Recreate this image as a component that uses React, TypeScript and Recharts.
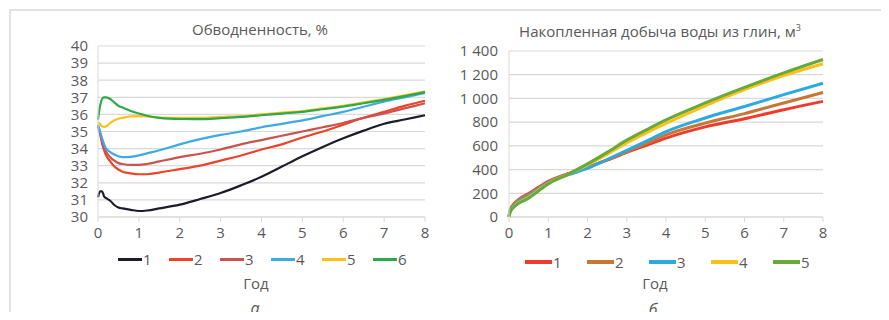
import React from "react";
import { LineChart, Line, XAxis, YAxis, CartesianGrid } from "recharts";

// ---- Chart a: Обводненность, % ----
const yearsA = [0, 0.05, 0.1, 0.15, 0.2, 0.3, 0.4, 0.5, 0.6, 0.8, 1, 1.2, 1.5, 2, 2.5, 3, 3.5, 4, 4.5, 5, 5.5, 6, 6.5, 7, 7.5, 8];
const wc1 = [31.15, 31.5, 31.5, 31.2, 31.1, 30.95, 30.7, 30.55, 30.5, 30.42, 30.35, 30.38, 30.5, 30.72, 31.05, 31.4, 31.85, 32.35, 32.95, 33.55, 34.1, 34.6, 35.05, 35.45, 35.7, 35.95];
const wc2 = [35.3, 34.9, 34.3, 33.9, 33.6, 33.25, 32.95, 32.78, 32.65, 32.55, 32.5, 32.5, 32.6, 32.8, 33.0, 33.3, 33.6, 33.95, 34.25, 34.65, 35.0, 35.4, 35.8, 36.15, 36.5, 36.8];
const wc3 = [35.3, 34.9, 34.4, 34.0, 33.8, 33.5, 33.3, 33.15, 33.1, 33.05, 33.05, 33.1, 33.25, 33.5, 33.7, 33.95, 34.25, 34.5, 34.75, 35.0, 35.25, 35.5, 35.8, 36.05, 36.35, 36.65];
const wc4 = [35.4, 35.0, 34.6, 34.25, 34.0, 33.8, 33.65, 33.55, 33.5, 33.52, 33.6, 33.72, 33.9, 34.25, 34.55, 34.8, 35.0, 35.25, 35.45, 35.65, 35.9, 36.15, 36.45, 36.75, 37.0, 37.25];
const wc5 = [35.55, 35.45, 35.3, 35.27, 35.3, 35.5, 35.65, 35.75, 35.8, 35.88, 35.9, 35.88, 35.82, 35.8, 35.8, 35.85, 35.9, 36.0, 36.1, 36.2, 36.35, 36.5, 36.7, 36.9, 37.12, 37.35];
const wc6 = [35.7, 36.5, 36.9, 37.0, 37.0, 36.9, 36.7, 36.5, 36.4, 36.2, 36.05, 35.92, 35.8, 35.73, 35.72, 35.78, 35.85, 35.95, 36.05, 36.15, 36.3, 36.45, 36.65, 36.85, 37.07, 37.3];
const namesA = ["1", "2", "3", "4", "5", "6"];
const colorsA = ["#1c1c2a", "#ee4328", "#c9544e", "#3eaae2", "#fdc014", "#2ea84c"];
const seriesA = [wc1, wc2, wc3, wc4, wc5, wc6];
const yTicksA = [30, 31, 32, 33, 34, 35, 36, 37, 38, 39, 40];

// ---- Chart б: Накопленная добыча воды из глин, м³ ----
const yearsB = [0, 0.02, 0.05, 0.1, 0.25, 0.5, 0.75, 1, 1.5, 2, 2.5, 3, 3.5, 4, 5, 6, 7, 8];
const cw1 = [0, 45, 75, 100, 148, 198, 250, 300, 365, 420, 480, 545, 605, 665, 760, 828, 905, 975];
const cw2 = [0, 42, 70, 95, 142, 190, 243, 295, 362, 418, 482, 550, 620, 692, 792, 872, 962, 1050];
const cw3 = [0, 38, 64, 88, 132, 178, 235, 288, 355, 410, 485, 562, 640, 720, 835, 932, 1032, 1128];
const cw4 = [0, 34, 58, 80, 122, 166, 226, 282, 360, 440, 530, 625, 710, 790, 938, 1074, 1192, 1292];
const cw5 = [0, 30, 54, 76, 116, 158, 220, 278, 360, 448, 545, 648, 735, 819, 962, 1093, 1215, 1328];
const namesB = ["1", "2", "3", "4", "5"];
const colorsB = ["#ee3b2b", "#c97634", "#2ba9e1", "#fdc014", "#67a93b"];
const seriesB = [cw1, cw2, cw3, cw4, cw5];
const yTicksB = [0, 200, 400, 600, 800, 1000, 1200, 1400];

const xTicks = [0, 1, 2, 3, 4, 5, 6, 7, 8];

const dataA = yearsA.map((x, i) => {
  const row: Record<string, number> = { x };
  seriesA.forEach((s, k) => (row["s" + k] = s[i]));
  return row;
});
const dataB = yearsB.map((x, i) => {
  const row: Record<string, number> = { x };
  seriesB.forEach((s, k) => (row["s" + k] = s[i]));
  return row;
});

const FONT = "'Open Sans', sans-serif";
const TXT = "#595959";
const GRID = "#d9d9d9";

const fmtThousands = (v: number) => {
  const s = String(v);
  return s.length > 3 ? s.slice(0, s.length - 3) + " " + s.slice(s.length - 3) : s;
};

function LegendRow({ names, colors, left, top, gap, lineW, lineH }: any) {
  return (
    <div style={{ position: "absolute", left, top, display: "flex", alignItems: "center", fontFamily: FONT, fontSize: 15, color: TXT, whiteSpace: "nowrap" }}>
      {names.map((n: string, i: number) => (
        <div key={n} style={{ display: "flex", alignItems: "center", width: gap, height: 20 }}>
          <span style={{ display: "inline-block", width: lineW, height: lineH, background: colors[i], marginRight: 1 }} />
          <span>{n}</span>
        </div>
      ))}
    </div>
  );
}

const abs = (left: number, top: number, w: number, extra: any = {}) => ({
  position: "absolute" as const,
  left,
  top,
  width: w,
  textAlign: "center" as const,
  fontFamily: FONT,
  color: TXT,
  whiteSpace: "nowrap" as const,
  lineHeight: "18px",
  ...extra,
});

const tickStyle = { fill: TXT, fontSize: 15, fontFamily: FONT };

export default function App() {
  return (
    <div style={{ position: "relative", width: 889, height: 320, margin: -8, overflow: "hidden", background: "#fff" }}>
      <div style={{ position: "absolute", left: 9, top: 9, width: 900, height: 400, borderTop: "2px solid #e2e2e2", borderLeft: "2px solid #e2e2e2" }} />

      {/* Chart a */}
      <div style={{ position: "absolute", left: 0, top: 0 }}>
        <LineChart width={440} height={320} data={dataA} margin={{ top: 46, right: 15, bottom: 73, left: 0 }}>
          <CartesianGrid horizontal vertical={false} stroke={GRID} strokeWidth={1.2} />
          <XAxis dataKey="x" type="number" domain={[0, 8]} ticks={xTicks} interval={0} stroke={GRID} tickSize={5} tickMargin={5} height={30} tick={tickStyle} />
          <YAxis type="number" domain={[30, 40]} ticks={yTicksA} interval={0} width={98} stroke={GRID} tickLine={false} tickSize={6} tickMargin={4} tick={tickStyle} />
          {seriesA.map((_, k) => (
            <Line key={k} dataKey={"s" + k} name={namesA[k]} type="monotone" stroke={colorsA[k]} strokeWidth={2.2} dot={false} isAnimationActive={false} />
          ))}
        </LineChart>
      </div>

      {/* Chart б */}
      <div style={{ position: "absolute", left: 440, top: 0 }}>
        <LineChart width={440} height={320} data={dataB} margin={{ top: 51, right: 57, bottom: 73, left: 0 }}>
          <CartesianGrid horizontal vertical={false} stroke={GRID} strokeWidth={1.2} />
          <XAxis dataKey="x" type="number" domain={[0, 8]} ticks={xTicks} interval={0} stroke={GRID} tickSize={5} tickMargin={5} height={30} tick={tickStyle} />
          <YAxis type="number" domain={[0, 1400]} ticks={yTicksB} interval={0} width={69} stroke={GRID} tickLine={false} tickSize={6} tickMargin={5} tickFormatter={fmtThousands} tick={tickStyle} />
          {seriesB.map((_, k) => (
            <Line key={k} dataKey={"s" + k} name={namesB[k]} type="monotone" stroke={colorsB[k]} strokeWidth={3} dot={false} isAnimationActive={false} />
          ))}
        </LineChart>
      </div>

      {/* Titles */}
      <div style={abs(160, 20, 200, { fontSize: 15 })}>Обводненность, %</div>
      <div style={abs(500, 22, 320, { fontSize: 15 })}>
        Накопленная добыча воды из глин, м<sup style={{ fontSize: 9, verticalAlign: "top", position: "relative", top: -3 }}>3</sup>
      </div>

      {/* Legends */}
      <LegendRow names={namesA} colors={colorsA} left={118} top={249} gap={51} lineW={24} lineH={3} />
      <LegendRow names={namesB} colors={colorsB} left={525} top={252} gap={62} lineW={27} lineH={4} />

      {/* Axis titles */}
      <div style={abs(206, 274, 100, { fontSize: 15 })}>Год</div>
      <div style={abs(605, 274, 100, { fontSize: 15 })}>Год</div>

      {/* Panel labels */}
      <div style={abs(205, 299, 100, { fontSize: 16, fontStyle: "italic" })}>а</div>
      <div style={abs(603, 300, 100, { fontSize: 16, fontStyle: "italic" })}>б</div>
    </div>
  );
}
